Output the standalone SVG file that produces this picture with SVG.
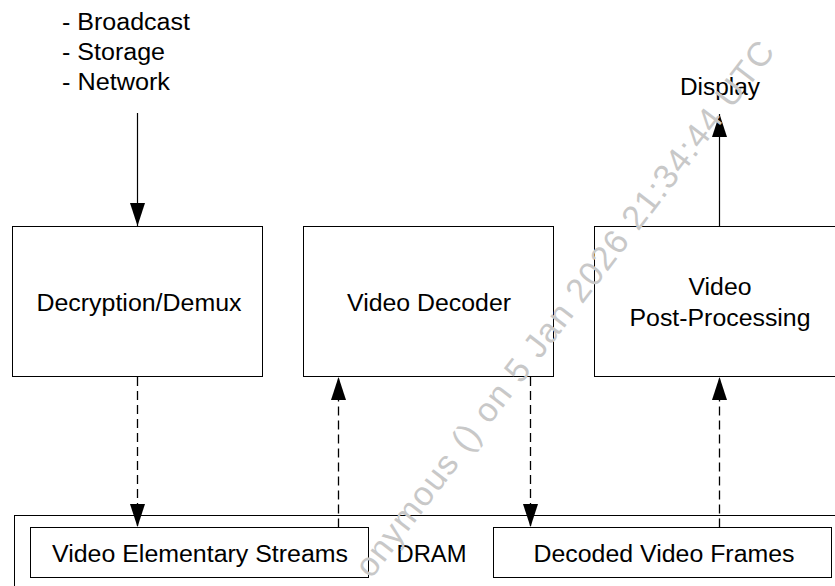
<svg xmlns="http://www.w3.org/2000/svg" width="835" height="586" viewBox="0 0 835 586">
  <style>
    .box { fill: #ffffff; stroke: #000000; stroke-width: 1; }
    .lbl { font-family: "Liberation Sans", Arial, sans-serif; font-size: 23px; fill: #000000; }
    .mid { text-anchor: middle; }
    .solid { stroke: #000000; stroke-width: 1.2; fill: none; }
    .dash { stroke: #000000; stroke-width: 1.3; fill: none; stroke-dasharray: 9 5; }
    .wm { font-family: "Liberation Sans", Arial, sans-serif; font-size: 34px; fill: #c8c8c8; text-anchor: end; }
  </style>
  <defs>
    <marker id="arrow" markerUnits="userSpaceOnUse" markerWidth="23" markerHeight="15" refX="23" refY="7.5" orient="auto" viewBox="0 0 23 15">
      <path d="M0,0 L23,7.5 L0,15 Z" fill="#000000" stroke="none"/>
    </marker>
  </defs>
  <rect width="835" height="586" fill="#ffffff"/>

  <g id="sources">
    <text class="lbl" x="62" y="30" textLength="128" lengthAdjust="spacingAndGlyphs">- Broadcast</text>
    <text class="lbl" x="62" y="60" textLength="103" lengthAdjust="spacingAndGlyphs">- Storage</text>
    <text class="lbl" x="62" y="90" textLength="108" lengthAdjust="spacingAndGlyphs">- Network</text>
  </g>

  <g id="display">
    <text class="lbl mid" x="720" y="95" textLength="80" lengthAdjust="spacingAndGlyphs">Display</text>
  </g>

  <g id="dram">
    <rect class="box" x="14.5" y="515.5" width="840" height="90"/>
    <text class="lbl mid" x="431.5" y="561.5" textLength="70" lengthAdjust="spacingAndGlyphs">DRAM</text>
  </g>

  <g id="ves">
    <rect class="box" x="30.5" y="527.5" width="338" height="50"/>
    <text class="lbl mid" x="200" y="561.5" textLength="296" lengthAdjust="spacingAndGlyphs">Video Elementary Streams</text>
  </g>

  <g id="dvf">
    <rect class="box" x="493.5" y="527.5" width="338" height="50"/>
    <text class="lbl mid" x="664" y="561.5" textLength="261" lengthAdjust="spacingAndGlyphs">Decoded Video Frames</text>
  </g>

  <g id="demux">
    <rect class="box" x="12.5" y="226.5" width="250" height="150"/>
    <text class="lbl mid" x="139" y="311" textLength="205" lengthAdjust="spacingAndGlyphs">Decryption/Demux</text>
  </g>

  <g id="decoder">
    <rect class="box" x="303.5" y="226.5" width="250" height="150"/>
    <text class="lbl mid" x="429" y="310.5" textLength="164" lengthAdjust="spacingAndGlyphs">Video Decoder</text>
  </g>

  <g id="postproc">
    <rect class="box" x="594.5" y="226.5" width="250" height="150"/>
    <text class="lbl mid" x="720" y="295" textLength="63" lengthAdjust="spacingAndGlyphs">Video</text>
    <text class="lbl mid" x="720" y="326" textLength="181" lengthAdjust="spacingAndGlyphs">Post-Processing</text>
  </g>

  <g id="connectors">
    <line class="solid" x1="137.5" y1="113" x2="137.5" y2="226" marker-end="url(#arrow)"/>
    <line class="dash" x1="137.5" y1="377" x2="137.5" y2="527" marker-end="url(#arrow)"/>
    <line class="dash" x1="338.5" y1="527.5" x2="338.5" y2="377" marker-end="url(#arrow)"/>
    <line class="dash" x1="530.5" y1="377" x2="530.5" y2="527" marker-end="url(#arrow)"/>
    <line class="dash" x1="719.5" y1="527.5" x2="719.5" y2="377" marker-end="url(#arrow)"/>
    <line class="solid" x1="719.5" y1="226" x2="719.5" y2="114" marker-end="url(#arrow)"/>
  </g>

  <text class="wm" x="776" y="52" transform="rotate(-52.5 776 52)" textLength="665" lengthAdjust="spacing">onymous () on 5 Jan 2026 21:34:44 UTC</text>
</svg>
